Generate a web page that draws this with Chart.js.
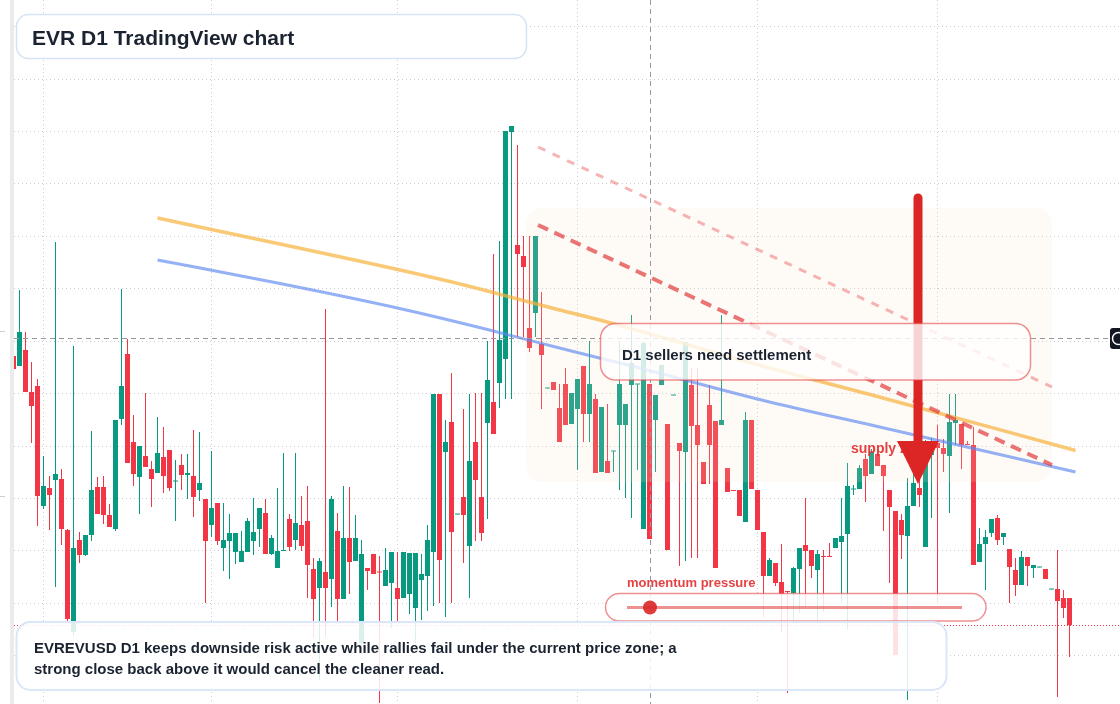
<!DOCTYPE html>
<html lang="en">
<head>
    <meta charset="UTF-8">
    <title>EVR D1 TradingView chart</title>
    <script src="https://cdn.jsdelivr.net/npm/chart.js"></script>
    <style>
        html, body { margin: 0; padding: 0; background: #ffffff; }
        #wrap { width: 1120px; height: 704px; overflow: hidden; }
    </style>
</head>
<body>
<div id="wrap"><canvas id="chart" width="1120" height="704"></canvas></div>
<script>
    // first bar index on screen (bars are numbered in days)
    const firstDay = 2;

    const opens = [
        .352, .342, .358, .316, .322, .202, .220, .228, .229, .178, .076, .168, .153, .173, .221, .221, .193, .179, .289, .354,
        .266, .231, .252, .239, .235, .251, .258, .2265, .243, .233, .232, .218, .209, .183, .205, .160, .167, .156, .146, .156,
        .167, .179, .195, .154, .140, .157, .189, .168, .183, .187, .139, .120, .136, .129, .177, .109, .170, .147, .065, .140,
        .154, .136, .122, .125, .120, .110, .114, .100, .128, .132, .156, .314, .256, .286, .1935, .211, .162, .266, .211, .285,
        .306, .325, .349, .576, .463, .452, .380, .395, .364, .3195, .326, .300, .324, .284, .299, .342, .294, .309, .236, .247,
        .2565, .283, .283, .323, .3235, .179, .324, .288, .323, .284, .3125, .265, .256, .323, .283, .246, .303, .287, .283, .240,
        .2175, .218, .186, .288, .218, .176, .132, .145, .126, .117, .115, .139, .163, .158, .138, .152, .152, .160, .166, .174,
        .2185, .219, .249, .234, .254, .243, .218, .197, .188, .172, .202, .220, .161, .253, .265, .260, .252, .285, .284, .264,
        .263, .146, .164, .175, .190, .171, .159, .138, .123, .151, .140, .1405, .139, .1185, .119, .110, .110
    ];
    const highs = [
        .352, .418, .376, .346, .329, .252, .232, .466, .239, .179, .362, .176, .173, .277, .231, .232, .204, .288, .419, .369,
        .293, .262, .315, .247, .291, .281, .258, .248, .254, .254, .278, .276, .209, .257, .205, .205, .194, .175, .177, .190,
        .210, .200, .209, .173, .220, .255, .194, .255, .212, .222, .150, .150, .399, .212, .195, .222, .221, .193, .168, .140,
        .154, .152, .160, .156, .156, .156, .155, .155, .154, .183, .314, .314, .288, .335, .194, .299, .314, .315, .315, .367,
        .454, .467, .577, .582, .563, .472, .472, .472, .416, .320, .326, .324, .340, .315, .329, .342, .367, .314, .301, .304,
        .257, .367, .304, .393, .324, .366, .324, .313, .343, .284, .313, .265, .366, .340, .340, .246, .323, .287, .393, .240,
        .218, .218, .296, .288, .218, .176, .150, .145, .164, .117, .141, .160, .210, .158, .158, .158, .165, .170, .210, .245,
        .223, .243, .254, .259, .254, .243, .218, .197, .194, .230, .238, .230, .268, .270, .283, .269, .314, .314, .284, .267,
        .281, .180, .178, .189, .193, .175, .159, .150, .157, .151, .143, .141, .139, .119, .158, .118, .110
    ];
    const lows = [
        .339, .342, .316, .265, .182, .199, .178, .121, .163, .086, .072, .145, .152, .167, .194, .184, .181, .177, .283, .245,
        .222, .194, .241, .201, .235, .215, .217, .187, .218, .209, .191, .207, .105, .171, .163, .137, .129, .144, .146, .156,
        .153, .161, .154, .153, .140, .157, .157, .158, .157, .110, .070, .028, .071, .101, .086, .109, .114, .147, .063, .118,
        .134, .005, .122, .080, .086, .110, .094, .065, .088, .097, .102, .105, .091, .105, .1935, .145, .110, .167, .167, .189,
        .274, .300, .309, .309, .371, .371, .356, .371, .299, .3195, .318, .266, .283, .284, .238, .266, .266, .235, .236, .235,
        .236, .218, .210, .190, .238, .179, .169, .236, .323, .158, .3125, .142, .147, .150, .150, .224, .224, .140, .283, .216,
        .217, .192, .186, .219, .178, .091, .132, .122, .076, .015, .088, .095, .101, .130, .088, .096, .151, .160, .105, .079,
        .213, .219, .206, .234, .242, .177, .125, .053, .149, .008, .202, .201, .161, .190, .105, .236, .195, .263, .239, .263,
        .143, .146, .118, .171, .163, .163, .105, .112, .123, .122, .130, .1405, .129, .1185, .011, .090, .051
    ];
    const closes = [
        .339, .376, .316, .302, .212, .222, .213, .234, .179, .089, .160, .153, .173, .218, .194, .193, .181, .288, .322, .245,
        .234, .262, .241, .229, .255, .232, .220, .227, .233, .235, .211, .225, .167, .200, .167, .168, .175, .175, .157, .187,
        .176, .200, .154, .170, .157, .158, .161, .185, .162, .143, .109, .147, .120, .209, .109, .170, .146, .170, .154, .137,
        .134, .1355, .138, .156, .109, .156, .155, .155, .134, .168, .314, .148, .266, .176, .194, .193, .247, .228, .175, .328,
        .274, .368, .577, .582, .454, .441, .360, .472, .353, .320, .318, .266, .283, .315, .329, .294, .324, .235, .301, .235,
        .257, .324, .304, .345, .324, .365, .169, .313, .343, .158, .313, .257, .366, .282, .263, .224, .263, .140, .288, .216,
        .217, .192, .288, .219, .178, .132, .148, .125, .114, .116, .140, .160, .157, .142, .154, .151, .151, .170, .172, .222,
        .219, .240, .232, .256, .242, .232, .201, .053, .173, .202, .225, .213, .252, .266, .260, .254, .286, .288, .263, .263,
        .143, .164, .171, .189, .168, .175, .141, .123, .151, .142, .143, .141, .129, .119, .107, .100, .083
    ];

    // first day of each month, where the vertical grid lines sit
    const monthStarts = [7, 35, 66, 96, 126, 156];

    // moving averages (day index, value)
    const slowAvgDays = [26, 73, 81, 93, 100, 128, 146, 179];
    const slowAvg = [.490, .429, .417, .398, .3875, .340, .3115, .2575];
    const fastAvgDays = [26, 46, 66, 81, 93, 106, 128, 146, 179];
    const fastAvg = [.448, .425, .400, .3785, .360, .3405, .306, .2815, .236];

    // falling trend lines drawn from the spike
    const trendDays = [89.42, 175.08];
    const upperTrend = [.561, .321];
    const lowerTrend = [.483, .243];

    // crosshair position
    const crossDay = 108;
    const crossPrice = .3697;

    const gridStep = 0.0524;
    const upColor = '#089981';
    const downColor = '#f23645';
    const font = '"Liberation Sans", Arial, sans-serif';

    const days = opens.map((o, i) => firstDay + i);
    const candleColors = opens.map((o, i) => closes[i] >= o ? upColor : downColor);

    function roundRect(ctx, x, y, w, h, r) {
        ctx.beginPath();
        ctx.moveTo(x + r, y);
        ctx.arcTo(x + w, y, x + w, y + h, r);
        ctx.arcTo(x + w, y + h, x, y + h, r);
        ctx.arcTo(x, y + h, x, y, r);
        ctx.arcTo(x, y, x + w, y, r);
        ctx.closePath();
    }

    const overlays = {
        id: 'overlays',
        afterDatasetDraw(chart, args) {
            if (chart.data.datasets[args.index].label !== 'bodies') return;
            // seller zone sits over the candles but under the lines
            const ctx = chart.ctx;
            ctx.save();
            roundRect(ctx, 526, 208, 526, 274, 16);
            ctx.fillStyle = 'rgba(250,226,200,0.16)';
            ctx.fill();
            ctx.restore();
        },
        afterDraw(chart) {
            const ctx = chart.ctx;
            const area = chart.chartArea;
            const xs = chart.scales.x, ys = chart.scales.y;
            ctx.save();

            // left scale edge
            ctx.fillStyle = '#ebebeb';
            ctx.fillRect(10, 0, 4, 704);
            ctx.strokeStyle = '#cfcfcf';
            ctx.lineWidth = 1;
            [331.5, 496.5].forEach(y => {
                ctx.beginPath(); ctx.moveTo(0, y); ctx.lineTo(5, y); ctx.stroke();
            });

            // last price line
            const lastY = Math.round(ys.getPixelForValue(closes[closes.length - 1])) + 0.5;
            ctx.strokeStyle = downColor;
            ctx.setLineDash([1, 2]);
            ctx.beginPath(); ctx.moveTo(area.left, lastY); ctx.lineTo(area.right, lastY); ctx.stroke();

            // crosshair
            const cx = Math.round(xs.getPixelForValue(crossDay)) + 0.5;
            const cy = Math.round(ys.getPixelForValue(crossPrice)) + 0.5;
            ctx.strokeStyle = '#9598a1';
            ctx.setLineDash([5, 4]);
            ctx.beginPath(); ctx.moveTo(cx, 0); ctx.lineTo(cx, 704); ctx.stroke();
            ctx.beginPath(); ctx.moveTo(area.left, cy); ctx.lineTo(1110, cy); ctx.stroke();
            ctx.setLineDash([]);

            // supply zone label, partly under the arrow head
            ctx.fillStyle = 'rgba(225,45,45,0.9)';
            ctx.font = 'bold 14px ' + font;
            ctx.textBaseline = 'alphabetic';
            ctx.fillText('supply zone', 851, 452.5);

            // down arrow
            ctx.strokeStyle = '#dc2626';
            ctx.lineWidth = 9;
            ctx.lineCap = 'round';
            ctx.beginPath(); ctx.moveTo(918, 198); ctx.lineTo(918, 446); ctx.stroke();
            ctx.lineCap = 'butt';
            ctx.fillStyle = '#dc2626';
            ctx.beginPath(); ctx.moveTo(897, 441); ctx.lineTo(939, 441); ctx.lineTo(918, 484); ctx.closePath(); ctx.fill();

            // settlement callout
            roundRect(ctx, 600.5, 323.5, 430, 56.5, 15);
            ctx.fillStyle = 'rgba(255,255,255,0.8)';
            ctx.fill();
            ctx.strokeStyle = 'rgba(226,72,72,0.6)';
            ctx.lineWidth = 1.5;
            ctx.stroke();
            ctx.fillStyle = '#1b2331';
            ctx.font = 'bold 15px ' + font;
            ctx.fillText('D1 sellers need settlement', 622, 359.5);

            // momentum pill
            ctx.fillStyle = 'rgba(225,45,45,0.9)';
            ctx.font = 'bold 13px ' + font;
            ctx.fillText('momentum pressure', 627, 587);
            roundRect(ctx, 605.5, 593.5, 380.5, 27.5, 13.75);
            ctx.fillStyle = 'rgba(255,255,255,0.85)';
            ctx.fill();
            ctx.strokeStyle = 'rgba(226,72,72,0.6)';
            ctx.lineWidth = 1.5;
            ctx.stroke();
            ctx.strokeStyle = 'rgba(226,72,72,0.6)';
            ctx.lineWidth = 3;
            ctx.beginPath(); ctx.moveTo(627, 607.5); ctx.lineTo(962, 607.5); ctx.stroke();
            ctx.fillStyle = 'rgba(220,38,38,0.9)';
            ctx.beginPath(); ctx.arc(650, 607.5, 7, 0, Math.PI * 2); ctx.fill();

            // summary box
            roundRect(ctx, 16.5, 622, 930, 68, 14);
            ctx.fillStyle = 'rgba(255,255,255,0.85)';
            ctx.fill();
            ctx.strokeStyle = '#dbe6f8';
            ctx.lineWidth = 2;
            ctx.stroke();
            ctx.fillStyle = '#1b2331';
            ctx.font = 'bold 15px ' + font;
            ctx.fillText('EVREVUSD D1 keeps downside risk active while rallies fail under the current price zone; a', 34, 652.5);
            ctx.fillText('strong close back above it would cancel the cleaner read.', 34, 673.5);

            // title box
            roundRect(ctx, 16.5, 14.5, 510, 44, 12);
            ctx.fillStyle = 'rgba(255,255,255,0.96)';
            ctx.fill();
            ctx.strokeStyle = '#d6e2f6';
            ctx.lineWidth = 1.5;
            ctx.stroke();
            ctx.fillStyle = '#1b2331';
            ctx.font = 'bold 21px ' + font;
            ctx.fillText('EVR D1 TradingView chart', 32, 44.5);

            // crosshair price tag on the right edge
            roundRect(ctx, 1110, cy - 10.5, 20, 21, 3);
            ctx.fillStyle = '#131722';
            ctx.fill();
            ctx.strokeStyle = '#ffffff';
            ctx.lineWidth = 1.5;
            ctx.beginPath(); ctx.arc(1118.5, cy, 6, 0, Math.PI * 2); ctx.stroke();

            ctx.restore();
        }
    };

    new Chart(document.getElementById('chart').getContext('2d'), {
        type: 'bar',
        data: {
            datasets: [
                {
                    type: 'line', label: 'upper trend', order: 0,
                    data: trendDays.map((d, i) => ({x: d, y: upperTrend[i]})),
                    borderColor: 'rgba(235,90,90,0.45)', borderWidth: 3, borderDash: [8, 8],
                    pointRadius: 0
                },
                {
                    type: 'line', label: 'lower trend', order: 0,
                    data: trendDays.map((d, i) => ({x: d, y: lowerTrend[i]})),
                    borderColor: 'rgba(225,60,60,0.7)', borderWidth: 4, borderDash: [11, 7],
                    pointRadius: 0
                },
                {
                    type: 'line', label: 'slow average', order: 1,
                    data: slowAvgDays.map((d, i) => ({x: d, y: slowAvg[i]})),
                    borderColor: 'rgba(247,178,60,0.7)', borderWidth: 3.5,
                    cubicInterpolationMode: 'monotone', pointRadius: 0
                },
                {
                    type: 'line', label: 'fast average', order: 1,
                    data: fastAvgDays.map((d, i) => ({x: d, y: fastAvg[i]})),
                    borderColor: 'rgba(90,135,240,0.65)', borderWidth: 3,
                    cubicInterpolationMode: 'monotone', pointRadius: 0
                },
                {
                    label: 'wicks', order: 3,
                    data: days.map((d, i) => ({x: d, y: [lows[i], highs[i]]})),
                    backgroundColor: candleColors,
                    barThickness: 1, maxBarThickness: 1, inflateAmount: 0, grouped: false
                },
                {
                    label: 'bodies', order: 2,
                    data: days.map((d, i) => ({x: d, y: [opens[i], closes[i]]})),
                    backgroundColor: candleColors,
                    barThickness: 5, maxBarThickness: 5, minBarLength: 1, inflateAmount: 0, grouped: false
                }
            ]
        },
        options: {
            responsive: false,
            animation: false,
            layout: { padding: { left: 14, right: 0, top: 0, bottom: 0 } },
            plugins: { legend: { display: false }, tooltip: { enabled: false } },
            scales: {
                x: {
                    type: 'linear',
                    min: (14 - 1.5) / 6,
                    max: (14 - 1.5) / 6 + 1106 / 6,
                    offset: false,
                    afterBuildTicks: scale => { scale.ticks = monthStarts.map(v => ({value: v})); },
                    ticks: { display: false },
                    grid: { color: '#c9ccd1', drawTicks: false, offset: false },
                    border: { display: false, dash: [1, 3] }
                },
                y: {
                    min: 0.004,
                    max: 0.708,
                    afterBuildTicks: scale => {
                        const t = [];
                        for (let v = Math.ceil(scale.min / gridStep) * gridStep; v < scale.max; v += gridStep) t.push({value: v});
                        scale.ticks = t;
                    },
                    ticks: { display: false },
                    grid: { color: '#c9ccd1', drawTicks: false },
                    border: { display: false, dash: [1, 3] }
                }
            }
        },
        plugins: [overlays]
    });
</script>
</body>
</html>
